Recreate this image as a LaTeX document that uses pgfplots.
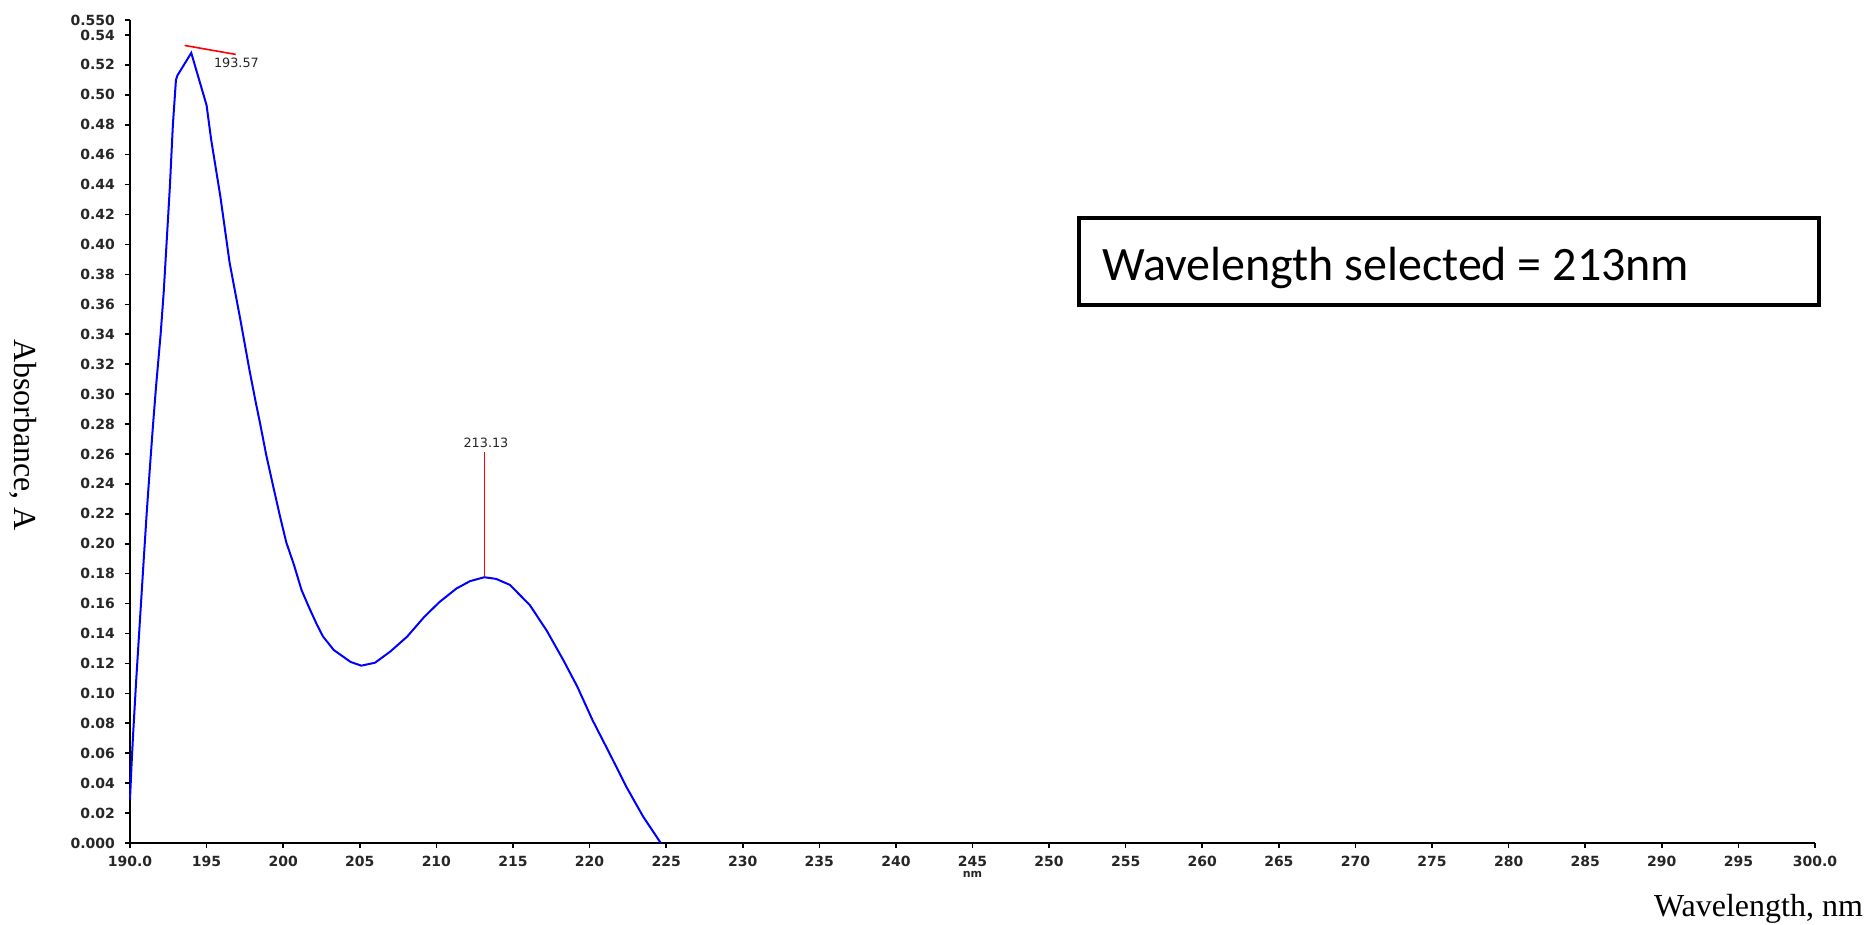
\documentclass[border=0pt]{standalone}
\usepackage{pgfplots}
\pgfplotsset{compat=1.18}
\usepackage{fontspec}
\setmainfont{Liberation Serif}
\newfontfamily\tickfont{DejaVu Sans}
\newfontfamily\boxfont{Carlito}

% UV absorbance spectrum
\pgfplotstableread{
wl     abs
190.0  0.029
190.1  0.052
190.2  0.072
190.4  0.108
190.65 0.149
190.9  0.190
191.1  0.222
191.3  0.251
191.5  0.279
191.7  0.305
192.0  0.340
192.2  0.368
192.4  0.403
192.6  0.438
192.8  0.480
193.0  0.510
193.1  0.513
194.0  0.528
195.0  0.493
195.3  0.470
195.9  0.432
196.5  0.388
197.2  0.350
197.8  0.316
198.2  0.295
198.5  0.280
198.9  0.259
199.4  0.236
199.8  0.218
200.2  0.201
200.7  0.186
201.2  0.169
201.75 0.156
202.2  0.146
202.6  0.138
203.3  0.129
204.4  0.121
205.1  0.1185
206.0  0.1205
207.0  0.128
208.1  0.138
209.2  0.151
210.2  0.161
211.3  0.170
212.2  0.175
213.13 0.1776
213.9  0.1765
214.8  0.1725
216.1  0.159
217.2  0.142
218.3  0.122
219.2  0.1045
220.2  0.082
221.3  0.060
222.4  0.0376
223.5  0.0176
224.65 0.000
}\spectrum

\begin{document}
\begin{tikzpicture}
\path[use as bounding box] (0,0) rectangle (935pt,462.5pt);
\begin{axis}[
  at={(65pt,41pt)}, anchor=south west,
  scale only axis, width=842.5pt, height=411.5pt,
  xmin=190, xmax=300, ymin=0, ymax=0.55,
  axis x line=bottom, axis y line=left,
  axis line style={-, line width=0.9pt, black},
  tick align=outside, major tick length=2.5pt,
  tick style={line width=0.8pt, black},
  xtick={190,195,...,300},
  xticklabels={190.0,195,200,205,210,215,220,225,230,235,240,245,250,255,260,265,270,275,280,285,290,295,300.0},
  ytick={0,0.02,0.04,0.06,0.08,0.10,0.12,0.14,0.16,0.18,0.20,0.22,0.24,0.26,0.28,0.30,0.32,0.34,0.36,0.38,0.40,0.42,0.44,0.46,0.48,0.50,0.52,0.54,0.55},
  yticklabels={0.000,0.02,0.04,0.06,0.08,0.10,0.12,0.14,0.16,0.18,0.20,0.22,0.24,0.26,0.28,0.30,0.32,0.34,0.36,0.38,0.40,0.42,0.44,0.46,0.48,0.50,0.52,0.54,0.550},
  tick label style={font=\tickfont\bfseries\fontsize{7}{8}\selectfont, text=black!85},
  yticklabel style={xshift=-1.5pt},
  xticklabel style={yshift=-0.5pt},
  clip=false,
]
\addplot[blue, line width=1pt] table[x=wl, y=abs] {\spectrum};
% peak markers
\addplot[red, line width=0.8pt] coordinates {(193.57,0.533) (196.9,0.527)};
\addplot[red, line width=0.8pt] coordinates {(213.13,0.1776) (213.13,0.2616)};
\node[font=\tickfont\fontsize{6.4}{7}\selectfont, text=black!85] at (axis cs:196.95,0.5214) {193.57};
\node[font=\tickfont\fontsize{6.4}{7}\selectfont, text=black!85] at (axis cs:213.24,0.2674) {213.13};
\node[font=\tickfont\bfseries\fontsize{5.5}{6}\selectfont, text=black!85] at (axis cs:245,-0.0207) {nm};
\end{axis}
% axis titles
\node[rotate=-90, font=\fontsize{16}{18}\selectfont] at (11.8pt,245pt) {Absorbance, A};
\node[anchor=east, font=\fontsize{16}{18}\selectfont] at (935pt,8pt) {Wavelength, nm};
% selected wavelength box
\draw[line width=2pt] (539.5pt,310pt) rectangle (909.5pt,353.5pt);
\node[anchor=west, font=\boxfont\fontsize{24}{26}\selectfont] at (547.5pt,328.5pt) {Wavelength selected = 213nm};
\end{tikzpicture}
\end{document}
